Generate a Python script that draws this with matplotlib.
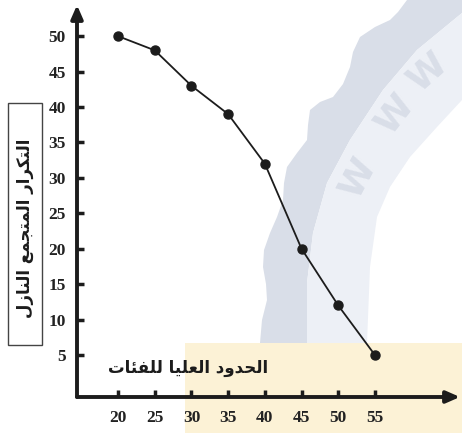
import matplotlib
matplotlib.use("Agg")
import matplotlib.pyplot as plt
from matplotlib.patches import Rectangle, Polygon

# ---- data ----
upper_limits = [20, 25, 30, 35, 40, 45, 50, 55]
cum_freq_desc = [50, 48, 43, 39, 32, 20, 12, 5]
y_ticks = [5, 10, 15, 20, 25, 30, 35, 40, 45, 50]
x_label = "الحدود العليا للفئات"
y_label = "التكرار المتجمع النازل"

# ---- minimal Arabic shaping (presentation forms) ----
FORMS = {
    'ا': (0xFE8D, 0xFE8E, None, None),
    'د': (0xFEA9, 0xFEAA, None, None),
    'ر': (0xFEAD, 0xFEAE, None, None),
    'ز': (0xFEAF, 0xFEB0, None, None),
    'ل': (0xFEDD, 0xFEDE, 0xFEDF, 0xFEE0),
    'ت': (0xFE95, 0xFE96, 0xFE97, 0xFE98),
    'ك': (0xFED9, 0xFEDA, 0xFEDB, 0xFEDC),
    'م': (0xFEE1, 0xFEE2, 0xFEE3, 0xFEE4),
    'ج': (0xFE9D, 0xFE9E, 0xFE9F, 0xFEA0),
    'ع': (0xFEC9, 0xFECA, 0xFECB, 0xFECC),
    'ن': (0xFEE5, 0xFEE6, 0xFEE7, 0xFEE8),
    'ح': (0xFEA1, 0xFEA2, 0xFEA3, 0xFEA4),
    'ي': (0xFEF1, 0xFEF2, 0xFEF3, 0xFEF4),
    'ف': (0xFED1, 0xFED2, 0xFED3, 0xFED4),
    'ئ': (0xFE89, 0xFE8A, 0xFE8B, 0xFE8C),
}


def shape(text):
    out = []
    n = len(text)
    for i, ch in enumerate(text):
        if ch not in FORMS:
            out.append(ch)
            continue
        iso, fin, ini, med = FORMS[ch]
        prev = text[i - 1] if i > 0 else ''
        nxt = text[i + 1] if i < n - 1 else ''
        p = prev in FORMS and FORMS[prev][2] is not None
        q = nxt in FORMS and ini is not None
        if p and q:
            code = med
        elif p:
            code = fin
        elif q:
            code = ini
        else:
            code = iso
        out.append(chr(code))
    return ''.join(out)[::-1]


plt.rcParams['font.family'] = ['DejaVu Sans']
ink = '#1c1c1c'

fig = plt.figure(figsize=(4.62, 4.33), dpi=100)
fig.patch.set_facecolor('white')

# background decoration (watermark + beige highlight band), behind everything
bg = fig.add_axes([0, 0, 1, 1], zorder=0)
bg.set_xlim(0, 462)
bg.set_ylim(433, 0)
bg.axis('off')
left_edge = [(407, 0), (398, 12), (390, 20), (375, 27), (360, 37), (353, 52),
             (350, 67), (343, 84), (333, 97), (320, 102), (310, 110),
             (308, 125), (307, 140), (297, 153), (287, 167), (284, 183),
             (283, 200), (277, 217), (270, 233), (264, 250), (263, 267),
             (266, 284), (267, 300), (262, 320), (260, 343)]
outer_edge = [(307, 343), (307, 283), (313, 233), (327, 183), (350, 140),
              (383, 90), (417, 50), (462, 13), (462, 0)]
inner_edge = [(367, 343), (370, 267), (377, 217), (390, 187), (410, 157),
              (437, 127), (462, 100)]
bg.add_patch(Polygon(left_edge + outer_edge, closed=True, facecolor='#d9dee8',
                     edgecolor='none'))
bg.add_patch(Polygon(outer_edge[:-1] + inner_edge[::-1], closed=True,
                     facecolor='#edf0f6', edgecolor='none'))
for (wx, wy, rot) in [(358, 178, 62), (395, 114, 52), (428, 72, 42)]:
    bg.text(wx, wy, 'W', fontsize=26, color='#d9dee8', rotation=rot,
            ha='center', va='center', fontweight='bold')
bg.add_patch(Rectangle((185, 343), 277, 90, facecolor='#fcf2d6',
                       edgecolor='none'))
# y label box
bg.add_patch(Rectangle((8, 103), 34, 242, facecolor='none',
                       edgecolor='#444444', lw=1.0))

ax = fig.add_axes([77 / 462, 36 / 433, 383 / 462, 392 / 433], zorder=2)
ax.patch.set_alpha(0)
ax.set_xlim(14.4, 66.6)
ax.set_ylim(-0.93, 54.4)
for s in ax.spines.values():
    s.set_visible(False)

# axes arrows
ax.annotate('', xy=(1.0, 0), xytext=(0, 0), xycoords='axes fraction',
            arrowprops=dict(arrowstyle='-|>,head_length=0.8,head_width=0.35',
                            lw=2.8, color=ink, shrinkA=0, shrinkB=0))
ax.annotate('', xy=(0, 1.0), xytext=(0, 0), xycoords='axes fraction',
            arrowprops=dict(arrowstyle='-|>,head_length=0.8,head_width=0.35',
                            lw=2.8, color=ink, shrinkA=0, shrinkB=0))

ax.plot(upper_limits, cum_freq_desc, color=ink, lw=1.3, marker='o',
        markersize=6.5, markerfacecolor=ink, markeredgecolor=ink, zorder=3)

ax.set_xticks(upper_limits)
ax.set_xticklabels([str(v) for v in upper_limits])
ax.set_yticks(y_ticks)
ax.set_yticklabels([str(v) for v in y_ticks])
ax.tick_params(axis='both', direction='in', length=5, width=2.5, color=ink,
               labelcolor='#222222')
ax.tick_params(axis='x', pad=9)
ax.tick_params(axis='y', pad=8)
for lab in ax.get_xticklabels() + ax.get_yticklabels():
    lab.set_fontfamily('Liberation Serif')
    lab.set_fontweight('bold')
    lab.set_fontsize(12.5)

# x label
fig.text(188 / 462, 1 - 368 / 433, shape(x_label), ha='center', va='center',
         fontsize=12, fontweight='bold', color=ink, zorder=3)

# y label
fig.text(25 / 462, 1 - 228 / 433, shape(y_label), ha='center', va='center',
         rotation=90, fontsize=12, fontweight='bold', color=ink, zorder=3)

fig.savefig('out.png', dpi=100)
